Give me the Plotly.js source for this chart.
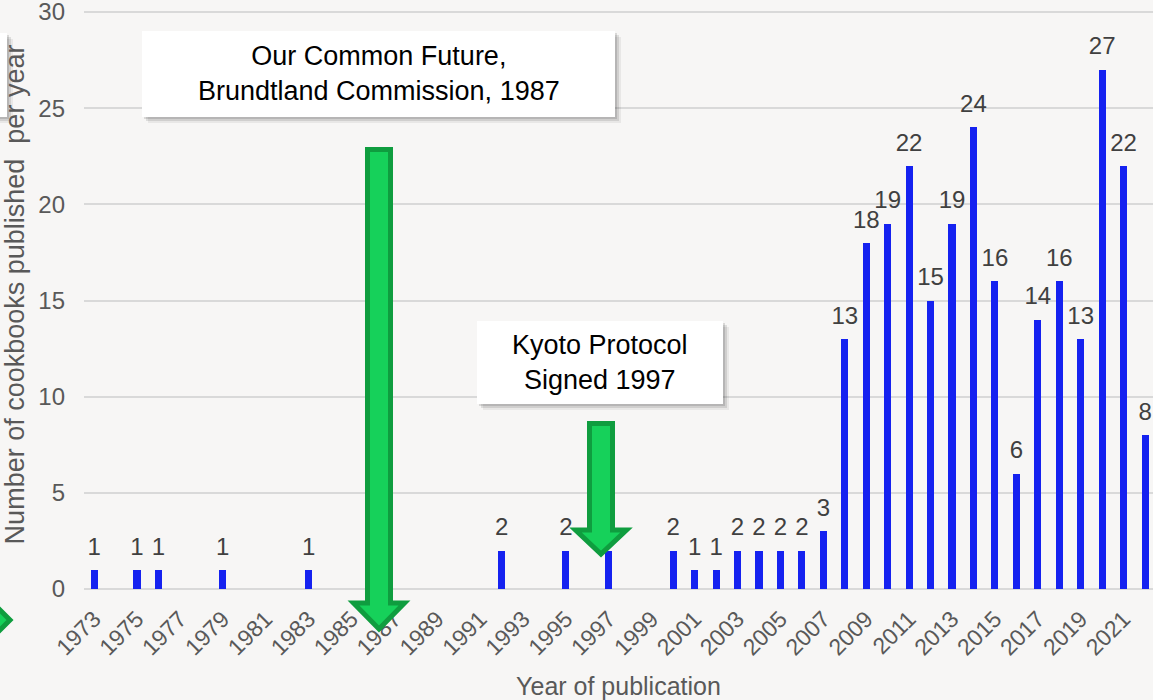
<!DOCTYPE html>
<html>
<head>
<meta charset="utf-8">
<script src="https://cdn.plot.ly/plotly-3.0.1.min.js"></script>
<style>
html,body{margin:0;padding:0;overflow:hidden;background:#f7f6f5;}
#chart{width:1153px;height:700px;}
</style>
</head>
<body>
<div id="chart"></div>
<script>
// ---- data ----
const years = [1973,1975,1976,1979,1983,1992,1995,1997,2000,2001,2002,2003,2004,2005,2006,2007,2008,2009,2010,2011,2012,2013,2014,2015,2016,2017,2018,2019,2020,2021,2022];
const counts = [1,1,1,1,1,2,2,2,2,1,1,2,2,2,2,3,13,18,19,22,15,19,24,16,6,14,16,13,27,22,8];
const tickYears = [1973,1975,1977,1979,1981,1983,1985,1987,1989,1991,1993,1995,1997,1999,2001,2003,2005,2007,2009,2011,2013,2015,2017,2019,2021];
const tickLabels = ['1973','1975','1977','1979','1981','1983','1985','1987','1989','1991','1993','1995','1997','1999','2001','2003','2005','2007','2009','2011','2013','2015','2017','2019','2021'];
const yTicks = [0,5,10,15,20,25,30];
const note1 = 'Our Common Future,<br>Brundtland Commission, 1987';
const note2 = 'Kyoto Protocol<br>Signed 1997';

// ---- layout geometry (pixels) ----
const W = 1153, H = 700;
const M = {l:84, r:0, t:0, b:111};
const PW = W - M.l - M.r, PH = H - M.t - M.b;
// y value 30 sits 12px below the top of the page
const yTop = 30 * PH / (PH - 12);
// pixel -> paper helpers for decorative shapes
const px = v => (v - M.l) / PW;
const py = v => (H - M.b - v) / PH;

const BLUE = '#1522f0';
const GL = '#16d15a', GD = '#0f9d3f';

function poly(pts){
  return 'M' + pts.map(p => px(p[0]).toFixed(5) + ',' + py(p[1]).toFixed(5)).join(' L') + ' Z';
}
function arrowDown(x1, x2, top, hx1, hx2, base, tip){
  const cx = (hx1 + hx2) / 2;
  return poly([[x1,top],[x2,top],[x2,base],[hx2,base],[cx,tip],[hx1,base],[x1,base]]);
}
function rect(x0,y0,x1,y1,fill){
  return {type:'rect', xref:'paper', yref:'paper', x0:px(x0), x1:px(x1), y0:py(y1), y1:py(y0),
          fillcolor:fill, line:{width:0}, layer:'above'};
}
function boxWithShadow(x0,y0,x1,y1){
  return [
    rect(x0+6,y0+6,x1+6,y1+6,'rgba(0,0,0,0.06)'),
    rect(x0+4,y0+4,x1+4,y1+4,'rgba(0,0,0,0.10)'),
    rect(x0+2,y0+2,x1+2,y1+2,'rgba(0,0,0,0.12)'),
    rect(x0,y0,x1,y1,'#ffffff')
  ];
}

const shapes = [].concat(
  boxWithShadow(142,31,615,117),
  boxWithShadow(477,321,723,404),
  boxWithShadow(-300,33,7,117),
  [
    {type:'path', xref:'paper', yref:'paper', layer:'above',
     path: arrowDown(367.5,390.5,149.5,353.5,404.5,603,629),
     fillcolor:GL, line:{color:GD, width:5}},
    {type:'path', xref:'paper', yref:'paper', layer:'above',
     path: arrowDown(589.5,612.5,423.5,575.5,626.5,530,554),
     fillcolor:GL, line:{color:GD, width:5}},
    {type:'path', xref:'paper', yref:'paper', layer:'above',
     path: poly([[-40,570],[10,620],[-40,670]]),
     fillcolor:GL, line:{color:GD, width:5}}
  ]
);

const annFont = {family:'Liberation Sans, Arial, sans-serif', size:27, color:'#000000'};
const annotations = [
  {xref:'paper', yref:'paper', x:px(378.5), y:py(74), xanchor:'center', yanchor:'middle',
   text:note1, showarrow:false, font:annFont},
  {xref:'paper', yref:'paper', x:px(600), y:py(363), xanchor:'center', yanchor:'middle',
   text:note2, showarrow:false, font:annFont}
];

const traces = [
  {type:'bar', x:years, y:counts, width:0.33, marker:{color:BLUE}, hoverinfo:'skip', showlegend:false},
  {type:'scatter', mode:'markers+text', x:years, y:counts, text:counts.map(String),
   textposition:'top center', cliponaxis:false,
   marker:{size:13.2, color:'rgba(0,0,0,0)'},
   textfont:{family:'Liberation Sans, Arial, sans-serif', size:24, color:'#404040'},
   hoverinfo:'skip', showlegend:false}
];

const layout = {
  width:W, height:H,
  margin:M,
  paper_bgcolor:'#f7f6f5', plot_bgcolor:'#f7f6f5',
  font:{family:'Liberation Sans, Arial, sans-serif', color:'#595959'},
  showlegend:false,
  xaxis:{
    range:[1972.53, 2022.37], tickmode:'array', tickvals:tickYears, ticktext:tickLabels,
    tickangle:-45, tickfont:{size:23, color:'#595959'}, showgrid:false, zeroline:false,
    showline:false, ticks:'', ticklabelstandoff:11, ticklabeloverflow:'allow', fixedrange:true,
    title:{text:'Year of publication', font:{size:25, color:'#595959'}, standoff:18}
  },
  yaxis:{
    range:[0, yTop], tickmode:'array', tickvals:yTicks, showgrid:true, gridcolor:'#d9d9d9', gridwidth:2,
    zeroline:true, zerolinecolor:'#d9d9d9', zerolinewidth:2, showline:false, ticks:'',
    tickfont:{size:24, color:'#595959'}, ticklabelstandoff:18, ticklabeloverflow:'allow', fixedrange:true,
    title:{text:'Number of cookbooks published  per year', font:{size:27, color:'#595959'}, standoff:8}
  },
  shapes:shapes,
  annotations:annotations,
  bargap:0
};

Plotly.newPlot('chart', traces, layout, {displayModeBar:false, staticPlot:true});
</script>
</body>
</html>
